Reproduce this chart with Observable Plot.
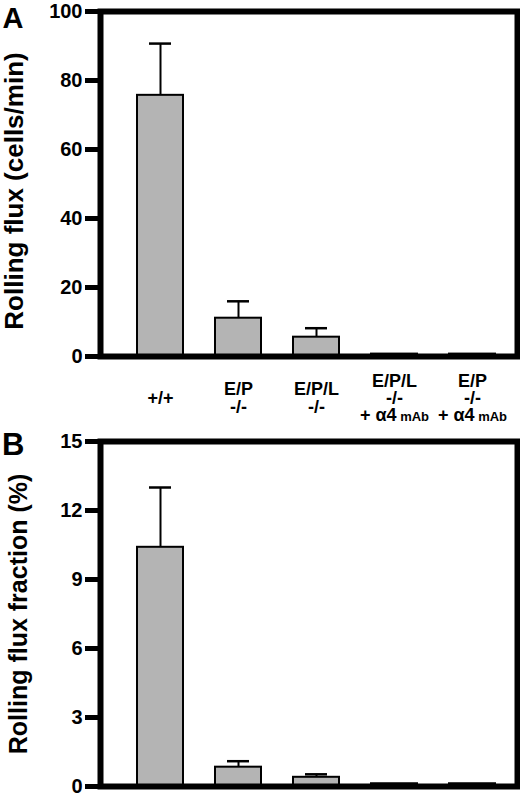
<!DOCTYPE html>
<html><head><meta charset="utf-8">
<script src="https://cdn.jsdelivr.net/npm/d3@7"></script>
<script src="https://cdn.jsdelivr.net/npm/@observablehq/plot@0.6"></script>
<style>
body{margin:0;background:#fff;}
#chart svg{display:block;}
</style></head><body><div id="chart"></div>
<script>
// ---- data ----
const groups = ["wt", "EP", "EPL", "EPL_a4", "EP_a4"];
const groupLabels = ["+/+", "E/P\n-/-", "E/P/L\n-/-", "E/P/L\n-/-\n+ α4 mAb", "E/P\n-/-\n+ α4 mAb"];
const fluxMean = [75.7, 11.1, 5.6, 0.7, 0.7];
const fluxUpper = [90.7, 16.0, 8.2, null, null];
const fractionMean = [10.4, 0.84, 0.40, 0.12, 0.12];
const fractionUpper = [13.0, 1.10, 0.53, null, null];
const fluxTicks = [0, 20, 40, 60, 80, 100];
const fractionTicks = [0, 3, 6, 9, 12, 15];
const fluxTitle = "Rolling flux (cells/min)";
const fractionTitle = "Rolling flux fraction (%)";

const FONT = "'Liberation Sans', Arial, Helvetica, sans-serif";

function panel({mean, upper, ticks, height, marginTop, marginBottom, yLabel, letter, showX,
                labelDx, labelDy, labelSize, letterDx, letterDy, letterSize}) {
  const rows = groups.map((g, i) => ({group: g, label: groupLabels[i], mean: mean[i], upper: upper[i]}));
  const errRows = rows.filter(d => d.upper != null);
  const marks = [
    Plot.barY(rows, {x: "group", y: "mean", fill: "#b4b4b4", stroke: "black", strokeWidth: 2}),
    Plot.ruleX(errRows, {x: "group", y1: "mean", y2: "upper", stroke: "black", strokeWidth: 2}),
    Plot.tickY(errRows, {x: "group", y: "upper", stroke: "black", strokeWidth: 2.5, insetLeft: 12, insetRight: 12}),
    Plot.frame({stroke: "black", strokeWidth: 6}),
    Plot.axisY({ticks, tickSize: 15, tickPadding: 3, strokeWidth: 5, fontSize: 20, fontWeight: "bold", label: null, tickFormat: d => String(d)}),
    Plot.text([yLabel], {frameAnchor: "left", rotate: -90, textAnchor: "middle", lineAnchor: "middle",
      dx: labelDx, dy: labelDy, fontSize: labelSize, fontWeight: "bold"}),
    Plot.text([letter], {frameAnchor: "top-left", textAnchor: "start", lineAnchor: "top",
      dx: letterDx, dy: letterDy, fontSize: letterSize, fontWeight: "bold"})
  ];
  if (showX) {
    marks.push(Plot.text(rows, {x: "group", text: "label", frameAnchor: "bottom", lineAnchor: "middle",
      dy: 42, fontSize: 18, fontWeight: "bold", lineHeight: 0.95, ariaLabel: "xlabels"}));
  }
  const svg = Plot.plot({
    width: 520, height, marginTop, marginBottom, marginLeft: 100, marginRight: 3,
    style: {fontFamily: FONT, fontWeight: "bold", color: "black", background: "white"},
    x: {domain: groups, paddingInner: 0.4155, paddingOuter: 0.357, align: 0.616, axis: null},
    y: {domain: [ticks[0], ticks[ticks.length - 1]], axis: null},
    marks
  });
  const s = d3.select(svg);
  s.selectAll("[aria-label='xlabels']").style("letter-spacing", "1.5px");
  s.selectAll("tspan").each(function () {
    if (this.textContent === "+ α4 mAb") {
      const t = d3.select(this);
      t.text("+ α4").style("letter-spacing", "0px").style("font-size", "18px");
      t.append("tspan").style("font-size", "13px").text(" mAb");
    }
  });
  return svg;
}

const root = document.getElementById("chart");
root.appendChild(panel({
  mean: fluxMean, upper: fluxUpper, ticks: fluxTicks, height: 426, marginTop: 11, marginBottom: 70,
  yLabel: fluxTitle, letter: "A", showX: true,
  labelDx: -86, labelDy: 7, labelSize: 26, letterDx: -98, letterDy: -4, letterSize: 29
}));
root.appendChild(panel({
  mean: fractionMean, upper: fractionUpper, ticks: fractionTicks, height: 370, marginTop: 15, marginBottom: 10,
  yLabel: fractionTitle, letter: "B", showX: false,
  labelDx: -82, labelDy: 0, labelSize: 25, letterDx: -98.5, letterDy: -9, letterSize: 31
}));
</script>
</body></html>
